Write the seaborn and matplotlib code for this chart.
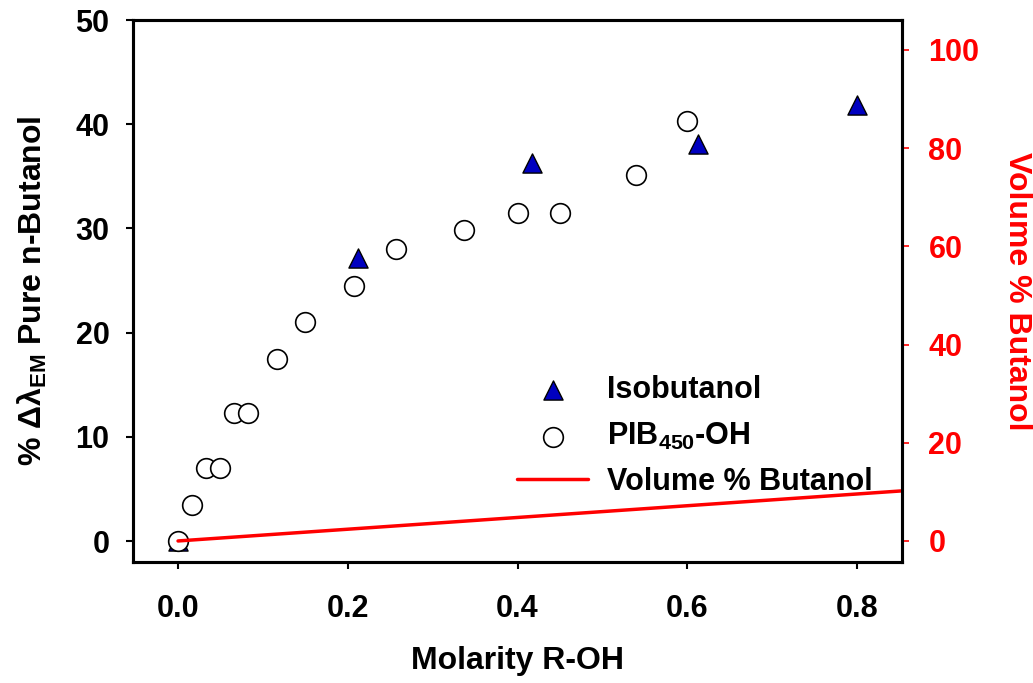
import matplotlib
matplotlib.use("Agg")
import matplotlib.pyplot as plt
import seaborn as sns
import pandas as pd

# Data
iso_x = [0.0, 0.212, 0.417, 0.613, 0.800]
iso_y = [0.0, 27.2, 36.3, 38.1, 41.8]

pib_x = [0.0, 0.016, 0.033, 0.050, 0.066, 0.082, 0.117, 0.150, 0.207, 0.257, 0.337, 0.400, 0.450, 0.540, 0.600]
pib_y = [0.0, 3.5, 7.0, 7.0, 12.3, 12.3, 17.5, 21.0, 24.5, 28.0, 29.9, 31.5, 31.5, 35.1, 40.3]

vol_x = [0.0, 0.853]
vol_y = [0.0, 10.2]

x_ticks = [0.0, 0.2, 0.4, 0.6, 0.8]
y_ticks = [0, 10, 20, 30, 40, 50]
y2_ticks = [0, 20, 40, 60, 80, 100]

sns.set_theme(style="ticks", rc={
    "text.color": "black", "axes.labelcolor": "black", "axes.edgecolor": "black",
    "xtick.color": "black", "ytick.color": "black"})
plt.rcParams['font.family'] = ['Liberation Sans', 'DejaVu Sans']
plt.rcParams['font.weight'] = 'bold'
plt.rcParams['mathtext.fontset'] = 'custom'
plt.rcParams['mathtext.rm'] = 'Liberation Sans:bold'
plt.rcParams['mathtext.it'] = 'Liberation Sans'
plt.rcParams['mathtext.bf'] = 'Liberation Sans:bold'

fig = plt.figure(figsize=(10.33, 6.83), dpi=100)
ax = fig.add_axes([0.1288, 0.1772, 0.7444, 0.7935])

iso_df = pd.DataFrame({"x": iso_x, "y": iso_y})
pib_df = pd.DataFrame({"x": pib_x, "y": pib_y})
vol_df = pd.DataFrame({"x": vol_x, "y": vol_y})

sns.scatterplot(data=iso_df, x="x", y="y", ax=ax, marker="^", s=190,
                color="#0000C0", edgecolor="black", linewidth=1.0, zorder=3,
                label="Isobutanol", legend=False)
sns.scatterplot(data=pib_df, x="x", y="y", ax=ax, marker="o", s=200,
                facecolor="white", edgecolor="black", linewidth=1.2, zorder=4,
                label=r"PIB$_{450}$-OH", legend=False)

ax.set_xlim(-0.053, 0.853)
ax.set_ylim(-2.0, 50.0)
ax.set_xticks(x_ticks)
ax.set_xticklabels([f"{v:.1f}" for v in x_ticks])
ax.set_yticks(y_ticks)
ax.set_yticklabels([str(v) for v in y_ticks])
ax.tick_params(axis='both', direction='out', length=5, width=1.5, labelsize=22, pad=12)
ax.tick_params(axis='x', pad=18)
for lbl in ax.get_xticklabels() + ax.get_yticklabels():
    lbl.set_fontweight('bold')
for s in ax.spines.values():
    s.set_linewidth(2.2)
ax.set_xlabel("Molarity R-OH", fontsize=23, fontweight='bold', labelpad=16)
ax.set_ylabel(r"% $\Delta\lambda_{\mathrm{EM}}$ Pure n-Butanol", fontsize=23,
              fontweight='bold', labelpad=19)

ax2 = ax.twinx()
sns.lineplot(data=vol_df, x="x", y="y", ax=ax2, color="red", linewidth=2.5,
             label="Volume % Butanol", legend=False)
ax2.set_ylim(-4.28, 106.1)
ax2.set_yticks(y2_ticks)
ax2.set_yticklabels([str(v) for v in y2_ticks])
ax2.tick_params(axis='y', direction='out', length=5, width=1.2, colors='red',
                labelsize=22, pad=14)
for lbl in ax2.get_yticklabels():
    lbl.set_fontweight('bold')
    lbl.set_color('red')
for s in ax2.spines.values():
    s.set_linewidth(2.2)
ax2.spines['right'].set_color('black')
ax2.set_ylabel("Volume % Butanol", fontsize=23, fontweight='bold', color='red',
               rotation=270, labelpad=38)
ax2.set_xlabel("")

h1, l1 = ax.get_legend_handles_labels()
h2, l2 = ax2.get_legend_handles_labels()
leg = ax2.legend(h1 + h2, l1 + l2, loc="upper left", bbox_to_anchor=(0.484, 0.367),
                 frameon=False, fontsize=22, handlelength=2.3, handletextpad=0.62,
                 labelspacing=0.5, borderaxespad=0)
for t in leg.get_texts():
    t.set_fontweight('bold')

fig.savefig("out.png", dpi=100)
